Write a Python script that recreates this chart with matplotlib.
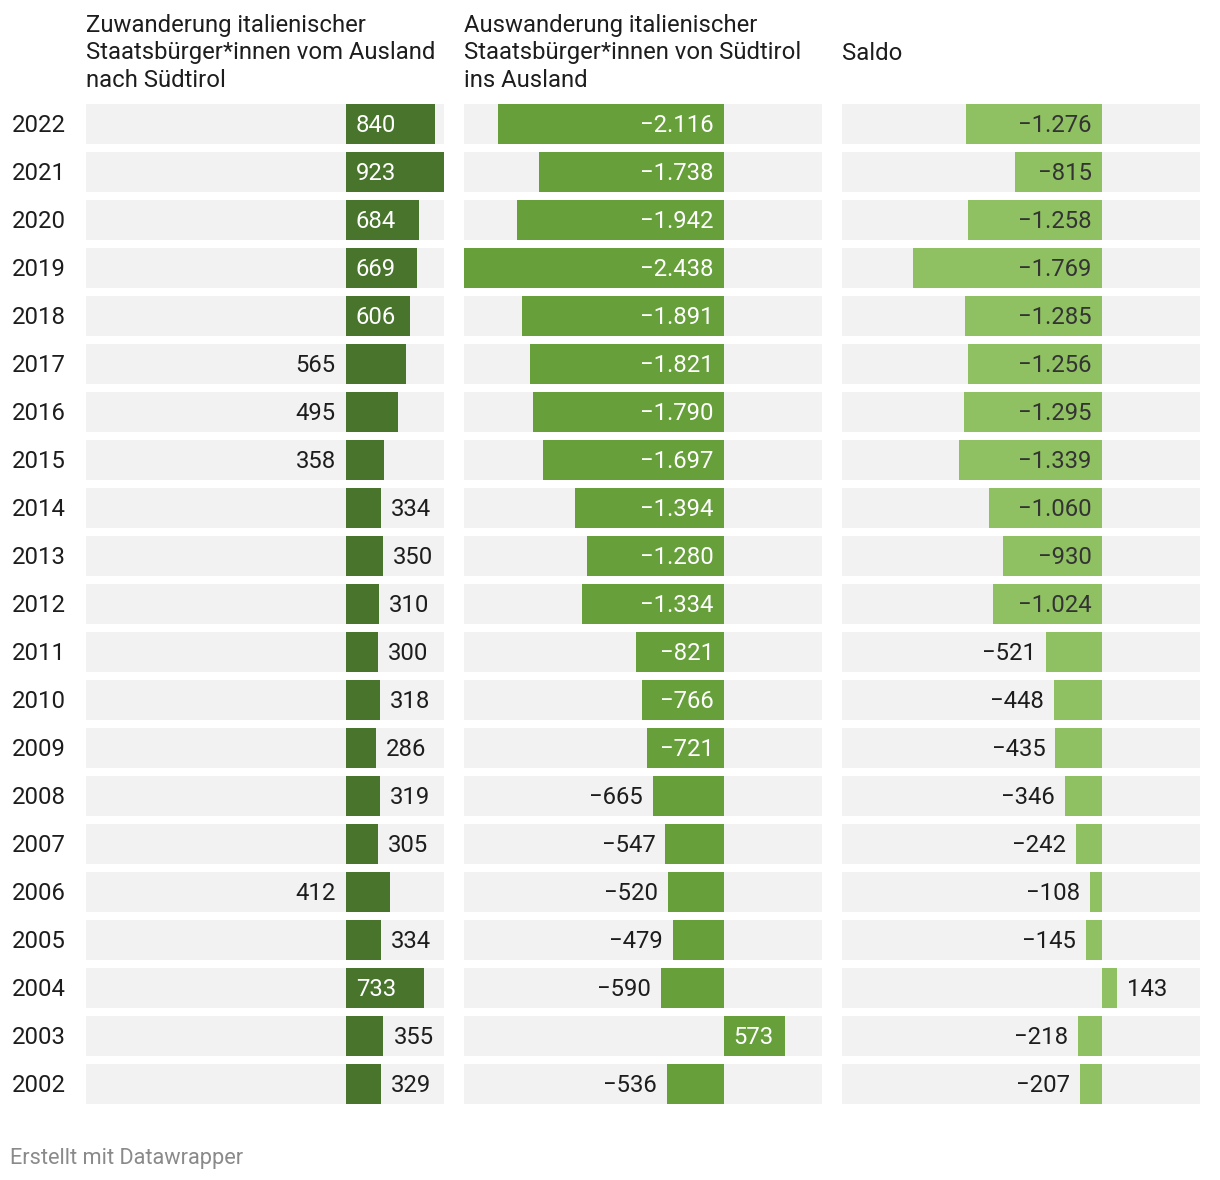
import re
import matplotlib
matplotlib.use("Agg")
import matplotlib.pyplot as plt
from matplotlib import transforms

plt.rcParams['font.family'] = ['Roboto', 'DejaVu Sans']

# ---------------- data ----------------
years = [2022, 2021, 2020, 2019, 2018, 2017, 2016, 2015, 2014, 2013, 2012,
         2011, 2010, 2009, 2008, 2007, 2006, 2005, 2004, 2003, 2002]
zuwanderung = [840, 923, 684, 669, 606, 565, 495, 358, 334, 350, 310,
               300, 318, 286, 319, 305, 412, 334, 733, 355, 329]
auswanderung = [-2116, -1738, -1942, -2438, -1891, -1821, -1790, -1697, -1394, -1280, -1334,
                -821, -766, -721, -665, -547, -520, -479, -590, 573, -536]
saldo = [-1276, -815, -1258, -1769, -1285, -1256, -1295, -1339, -1060, -930, -1024,
         -521, -448, -435, -346, -242, -108, -145, 143, -218, -207]
headers = [
    ["Zuwanderung italienischer", "Staatsbürger*innen vom Ausland", "nach Südtirol"],
    ["Auswanderung italienischer", "Staatsbürger*innen von Südtirol", "ins Ausland"],
    ["Saldo"],
]
footer = "Erstellt mit Datawrapper"

# ---------------- style ----------------
W, H = 1220, 1180
DPI = 100
FS = 17.2
col_left = [86, 464, 842]
col_w = 358
top_px, bot_px = 104, 1104
row_pitch = 48
bar_colors = ['#48742c', '#67a03b', '#8fc162']
inside_colors = ['white', 'white', '#333333']
text_dark = '#1d1d1d'
bg_row = '#f2f2f2'

series = [zuwanderung, auswanderung, saldo]
xmin = min(min(s) for s in series)
xmax = max(max(s) for s in series)
scale = col_w / (xmax - xmin)  # px per unit

n = len(years)
pos = list(range(n))
bar_h = 40 / row_pitch
base_off = 8.4 / row_pitch  # baseline offset from row centre


def fmt(v):
    s = f"{abs(v):,}".replace(",", ".")
    return ("\u2212" + s) if v < 0 else s


fig = plt.figure(figsize=(W / DPI, H / DPI), dpi=DPI)
fig.patch.set_facecolor('white')
renderer = fig.canvas.get_renderer()


def text_width(s):
    # width with tabular digits normalised, so that placement is stable
    probe = fig.text(0, 0, re.sub(r"\d", "0", s), fontsize=FS)
    w = probe.get_window_extent(renderer).width
    probe.remove()
    return w


axes = []
for c in range(3):
    ax = fig.add_axes([col_left[c] / W, (H - bot_px) / H, col_w / W, (bot_px - top_px) / H])
    ax.set_xlim(xmin, xmax)
    ax.set_ylim(n - 1 + bar_h / 2, -bar_h / 2)
    ax.axis('off')
    ax.barh(pos, [xmax - xmin] * n, left=xmin, height=bar_h, color=bg_row, zorder=1)
    ax.barh(pos, series[c], height=bar_h, color=bar_colors[c], zorder=2)
    axes.append(ax)

t3 = text_width("000")
inside_need = 60.6 - t3          # extra room a label needs inside a bar
outside_need = 50.33 - t3        # right margin needed for an outside label

pad = 10 / scale
for c, ax in enumerate(axes):
    for i, v in enumerate(series[c]):
        label = fmt(v)
        t = ax.text(0, i + base_off, label, fontsize=FS, va='baseline', zorder=3)
        tw = text_width(label)
        bar_px = abs(v) * scale
        if bar_px - tw >= inside_need:
            t.set_color(inside_colors[c])
            if v >= 0:
                t.set_x(pad); t.set_ha('left')
            else:
                t.set_x(-pad); t.set_ha('right')
        else:
            t.set_color(text_dark)
            if v >= 0:
                end_px = (v - xmin) * scale
                if end_px + 10 + tw + outside_need <= col_w:
                    t.set_x(v + pad); t.set_ha('left')
                else:
                    t.set_x(-pad); t.set_ha('right')
            else:
                start_px = (v - xmin) * scale
                if start_px - 10 - tw - 10 >= 0:
                    t.set_x(v - pad); t.set_ha('right')
                else:
                    t.set_x(pad); t.set_ha('left')

# year labels
trans = transforms.blended_transform_factory(fig.transFigure, axes[0].transData)
for i, y in enumerate(years):
    axes[0].text(12 / W, i + base_off, str(y), transform=trans, fontsize=FS, va='baseline',
                 ha='left', color=text_dark)

# headers
baselines = [31.7, 59.5, 87.3]
for c, lines in enumerate(headers):
    bl = baselines if len(lines) > 1 else [59.5]
    for k, line in enumerate(lines):
        fig.text(col_left[c] / W, 1 - bl[k] / H, line, fontsize=FS, va='baseline',
                 ha='left', color=text_dark)

fig.text(10 / W, 1 - 1164 / H, footer, fontsize=15.7, va='baseline', ha='left', color='#8a8a8a')

fig.savefig('out.png', dpi=DPI, facecolor='white')
